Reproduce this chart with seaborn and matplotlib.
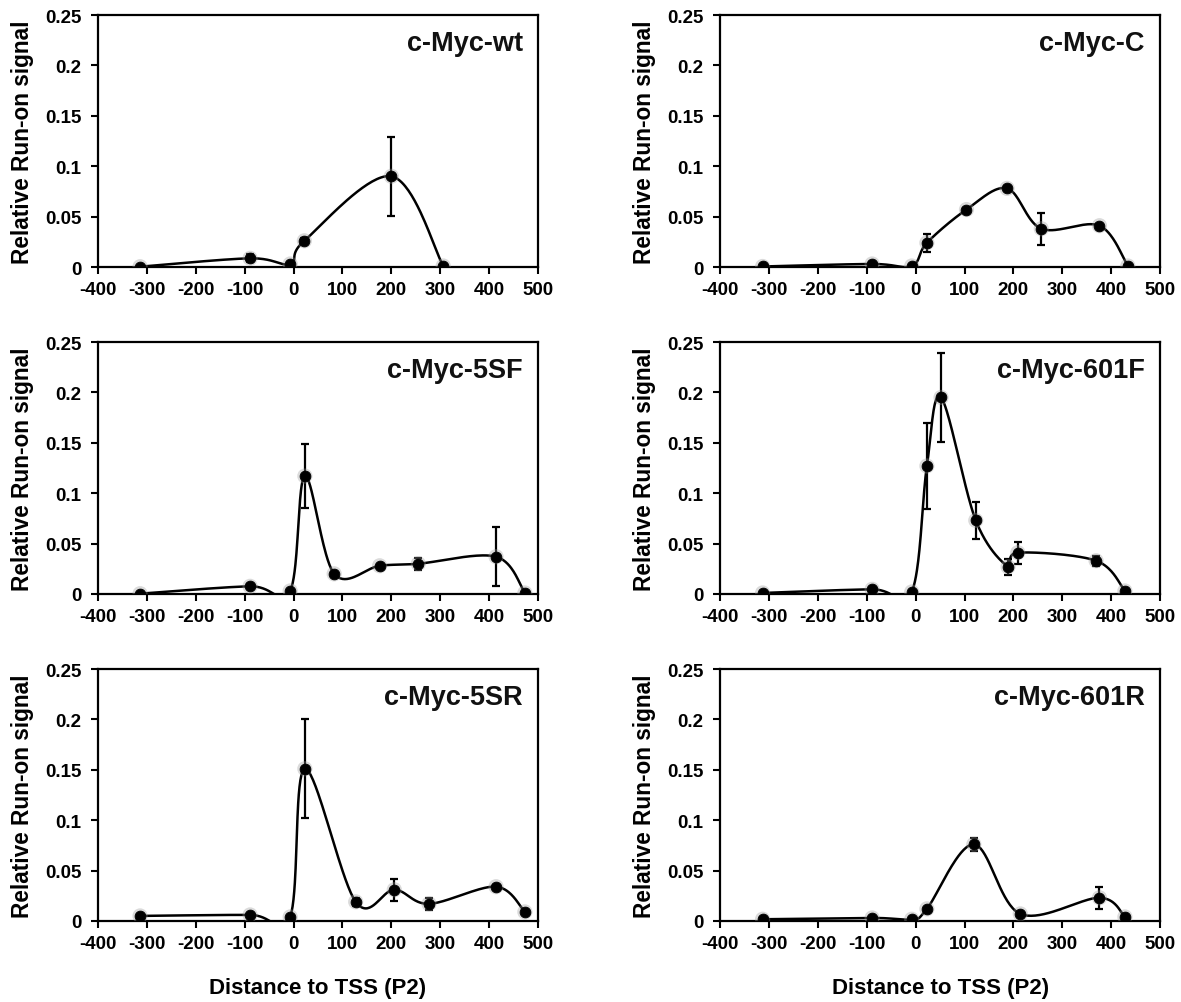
import numpy as np
import matplotlib
matplotlib.use('Agg')
import matplotlib.pyplot as plt
import seaborn as sns

# 数据：从图中读取 (x = distance to TSS, y = relative run-on signal, err = 误差棒)
wt_x = [-314, -89, -7, 22, 200, 306]
wt_y = [0.0003, 0.0086, 0.003, 0.026, 0.090, 0.001]
wt_err = [0.0, 0.004, 0.0, 0.003, 0.039, 0.0]

c_x = [-313, -89, -8, 23, 104, 187, 257, 376, 434]
c_y = [0.0005, 0.003, 0.001, 0.024, 0.057, 0.078, 0.038, 0.041, 0.001]
c_err = [0.0, 0.002, 0.0, 0.009, 0.002, 0.002, 0.016, 0.002, 0.0]

sf_x = [-314, -89, -7, 23, 83, 176, 255, 414, 473]
sf_y = [0.0003, 0.0076, 0.003, 0.117, 0.020, 0.028, 0.030, 0.037, 0.001]
sf_err = [0.0, 0.002, 0.0, 0.032, 0.002, 0.001, 0.006, 0.029, 0.0]

f601_x = [-313, -89, -8, 23, 52, 123, 189, 209, 369, 428]
f601_y = [0.001, 0.0046, 0.002, 0.127, 0.195, 0.073, 0.027, 0.041, 0.033, 0.003]
f601_err = [0.0, 0.001, 0.0, 0.043, 0.044, 0.018, 0.008, 0.011, 0.005, 0.001]

sr_x = [-314, -89, -7, 23, 127, 206, 277, 414, 473]
sr_y = [0.005, 0.006, 0.004, 0.151, 0.019, 0.031, 0.017, 0.034, 0.009]
sr_err = [0.0, 0.0, 0.0, 0.049, 0.004, 0.011, 0.006, 0.002, 0.0]

r601_x = [-313, -89, -8, 23, 119, 214, 376, 428]
r601_y = [0.0017, 0.003, 0.0017, 0.012, 0.076, 0.007, 0.023, 0.004]
r601_err = [0.0, 0.001, 0.0, 0.001, 0.0066, 0.001, 0.011, 0.0]

panel_names = ['c-Myc-wt', 'c-Myc-C', 'c-Myc-5SF', 'c-Myc-601F', 'c-Myc-5SR', 'c-Myc-601R']
panel_data = [(wt_x, wt_y, wt_err), (c_x, c_y, c_err), (sf_x, sf_y, sf_err),
              (f601_x, f601_y, f601_err), (sr_x, sr_y, sr_err), (r601_x, r601_y, r601_err)]

x_ticks = [-400, -300, -200, -100, 0, 100, 200, 300, 400, 500]
y_ticks = [0, 0.05, 0.1, 0.15, 0.2, 0.25]
y_tick_labels = ['0', '0.05', '0.1', '0.15', '0.2', '0.25']


def smooth_curve(x, y, n=40):
    # Excel 风格平滑线：分段三次贝塞尔，控制点取相邻点差的 1/6
    p = np.column_stack([x, y]).astype(float)
    ext = np.vstack([p[0], p, p[-1]])
    out = []
    t = np.linspace(0, 1, n)[:, None]
    for i in range(1, len(ext) - 2):
        p0, p1, p2, p3 = ext[i - 1], ext[i], ext[i + 1], ext[i + 2]
        c1 = p1 + (p2 - p0) / 6
        c2 = p2 - (p3 - p1) / 6
        seg = ((1 - t) ** 3) * p1 + 3 * ((1 - t) ** 2) * t * c1 + 3 * (1 - t) * t ** 2 * c2 + t ** 3 * p2
        out.append(seg if i == 1 else seg[1:])
    out = np.vstack(out)
    return out[:, 0], out[:, 1]


sns.set_style('white')
plt.rcParams['font.family'] = ['Liberation Sans', 'DejaVu Sans']
plt.rcParams['font.weight'] = 'bold'
plt.rcParams['axes.unicode_minus'] = False
plt.rcParams['axes.labelcolor'] = 'black'
plt.rcParams['text.color'] = 'black'

fig = plt.figure(figsize=(11.81, 10.03), dpi=100)

lefts = [0.083, 0.6097]
bottoms = [0.7328, 0.4068, 0.0808]
w, h = 0.3726, 0.2512

for k, (name, (xs, ys, es)) in enumerate(zip(panel_names, panel_data)):
    row, col = divmod(k, 2)
    ax = fig.add_axes([lefts[col], bottoms[row], w, h])

    cx, cy = smooth_curve(xs, ys)
    sns.lineplot(x=cx, y=cy, sort=False, estimator=None, color='black', linewidth=1.8, ax=ax)
    ax.errorbar(xs, ys, yerr=es, fmt='none', ecolor='black', elinewidth=1.6,
                capsize=3, capthick=1.6, zorder=3)
    # 点的模糊光晕
    sns.scatterplot(x=xs, y=ys, s=120, color='#999999', alpha=0.35, edgecolor='none', ax=ax, zorder=3)
    sns.scatterplot(x=xs, y=ys, s=60, color='black', edgecolor='black', ax=ax, zorder=4)

    ax.set_xlim(-400, 500)
    ax.set_ylim(0, 0.25)
    ax.set_xticks(x_ticks)
    ax.set_yticks(y_ticks)
    ax.set_yticklabels(y_tick_labels)
    ax.tick_params(axis='both', direction='out', length=5, width=1.5, labelsize=13.5,
                   colors='black', pad=5, bottom=True, left=True)
    ax.tick_params(axis='y', pad=7)
    for lab in ax.get_xticklabels() + ax.get_yticklabels():
        lab.set_fontweight('bold')
    for sp in ax.spines.values():
        sp.set_visible(True)
        sp.set_color('black')
        sp.set_linewidth(1.6)

    ax.text(0.965, 0.89, name, transform=ax.transAxes, ha='right', va='center',
            fontsize=19.5, fontweight='bold', color='#111111')
    ax.set_ylabel('Relative Run-on signal', fontsize=16.3, fontweight='bold', labelpad=8)
    if row == 2:
        ax.set_xlabel('Distance to TSS (P2)', fontsize=16, fontweight='bold', labelpad=18)
    else:
        ax.set_xlabel('')

plt.savefig('out.png', dpi=100)
